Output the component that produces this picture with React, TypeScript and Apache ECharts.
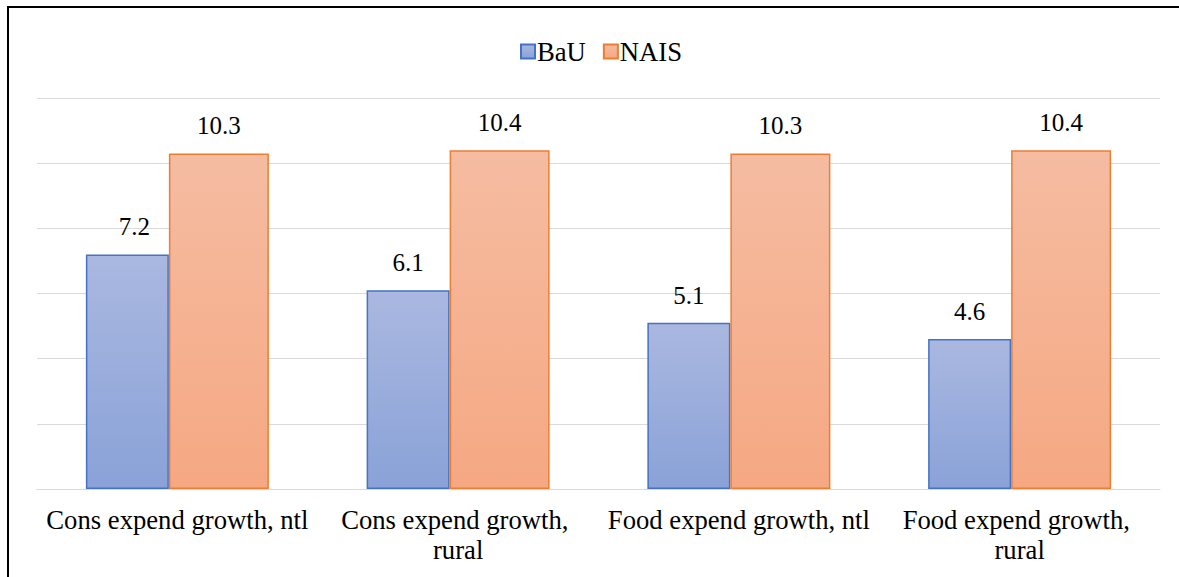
import React, { useEffect, useRef } from "react";
import * as echarts from "echarts";

const categories = [
  "Cons expend growth, ntl",
  "Cons expend growth, rural",
  "Food expend growth, ntl",
  "Food expend growth, rural",
];
const bauValues = [7.2, 6.1, 5.1, 4.6];
const naisValues = [10.3, 10.4, 10.3, 10.4];
const seriesNames = ["BaU", "NAIS"];

const FONT = "Times New Roman, Liberation Serif, serif";

const blueFill = new echarts.graphic.LinearGradient(0, 0, 0, 1, [
  { offset: 0, color: "#aab8e0" },
  { offset: 1, color: "#8aa2d8" },
]);
const orangeFill = new echarts.graphic.LinearGradient(0, 0, 0, 1, [
  { offset: 0, color: "#f5bca2" },
  { offset: 1, color: "#f5a882" },
]);

export default function App() {
  const ref = useRef<HTMLDivElement>(null);

  useEffect(() => {
    if (!ref.current) return;
    const chart = echarts.init(ref.current, undefined, { renderer: "svg" });

    const valueLabel = {
      show: true,
      position: "top" as const,
      distance: 15,
      color: "#000",
      fontFamily: FONT,
      fontSize: 25,
      formatter: (p: any) => Number(p.value).toFixed(1),
    };

    chart.setOption({
      animation: false,
      backgroundColor: "#fff",
      textStyle: { fontFamily: FONT },
      graphic: [
        {
          type: "rect",
          z: 100,
          silent: true,
          shape: { x: 8, y: 7, width: 1400, height: 800 },
          style: { fill: "none", stroke: "#000", lineWidth: 2 },
        },
      ],
      legend: {
        data: seriesNames,
        icon: "rect",
        left: 515,
        top: 33,
        itemWidth: 14,
        itemHeight: 14,
        itemGap: 17,
        textStyle: {
          color: "#000",
          fontFamily: FONT,
          fontSize: 26.67,
          padding: [0, 0, 0, -3],
        },
      },
      grid: { left: 37, right: 19, top: 98, bottom: 88, containLabel: false },
      xAxis: {
        type: "category",
        data: categories,
        axisLine: { show: true, lineStyle: { color: "#d9d9d9", width: 1 } },
        axisTick: { show: false },
        axisLabel: {
          color: "#000",
          fontFamily: FONT,
          fontSize: 26.67,
          lineHeight: 30,
          margin: 16,
          width: 272,
          overflow: "break",
          interval: 0,
        },
      },
      yAxis: {
        type: "value",
        min: 0,
        max: 12,
        interval: 2,
        axisLabel: { show: false },
        axisLine: { show: false },
        axisTick: { show: false },
        splitLine: { lineStyle: { color: "#d9d9d9", width: 1 } },
      },
      series: [
        {
          name: seriesNames[0],
          type: "bar",
          barWidth: 83,
          barGap: "0%",
          data: bauValues.map((v, i) =>
            i === 0 ? { value: v, label: { offset: [7, 0] } } : v
          ),
          itemStyle: { color: blueFill, borderColor: "#4472c4", borderWidth: 1.5 },
          label: valueLabel,
        },
        {
          name: seriesNames[1],
          type: "bar",
          barWidth: 100,
          barGap: "0%",
          data: naisValues,
          itemStyle: { color: orangeFill, borderColor: "#ed7d31", borderWidth: 1.5 },
          label: valueLabel,
        },
      ],
    });

    return () => chart.dispose();
  }, []);

  return (
    <div
      ref={ref}
      style={{ position: "fixed", left: 0, top: 0, width: 1179, height: 577 }}
    />
  );
}
